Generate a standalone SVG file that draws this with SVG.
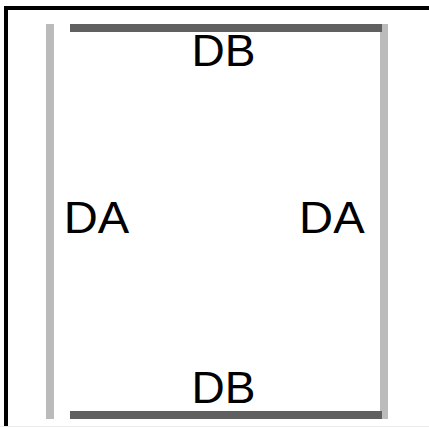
<svg xmlns="http://www.w3.org/2000/svg" width="429" height="427" viewBox="0 0 429 427">
<style>
.lbl{font-family:"Liberation Sans",Arial,sans-serif;font-size:44px;fill:#000}
.side{fill:#bbbbbb}
.end{fill:#606060}
</style>
<rect x="0" y="0" width="429" height="427" fill="#fff"/>
<path d="M6 427V8H429" fill="none" stroke="#000" stroke-width="4"/>
<line x1="0" y1="426.5" x2="429" y2="426.5" stroke="#ececec" stroke-width="1"/>
<g id="connectors">
<rect id="left" class="side" x="46" y="24" width="8" height="395"/>
<rect id="right" class="side" x="380" y="24" width="8" height="395"/>
<rect id="top" class="end" x="70" y="24" width="312" height="8"/>
<rect id="bottom" class="end" x="70" y="411" width="312" height="8"/>
</g>
<g id="n-top"><text class="lbl" x="191.4" y="66" textLength="64" lengthAdjust="spacingAndGlyphs">DB</text></g>
<g id="n-bottom"><text class="lbl" x="191.4" y="402.5" textLength="64" lengthAdjust="spacingAndGlyphs">DB</text></g>
<g id="n-left"><text class="lbl" x="63.7" y="232.5" textLength="65.5" lengthAdjust="spacingAndGlyphs">DA</text></g>
<g id="n-right"><text class="lbl" x="299.1" y="232.5" textLength="65.5" lengthAdjust="spacingAndGlyphs">DA</text></g>
</svg>
